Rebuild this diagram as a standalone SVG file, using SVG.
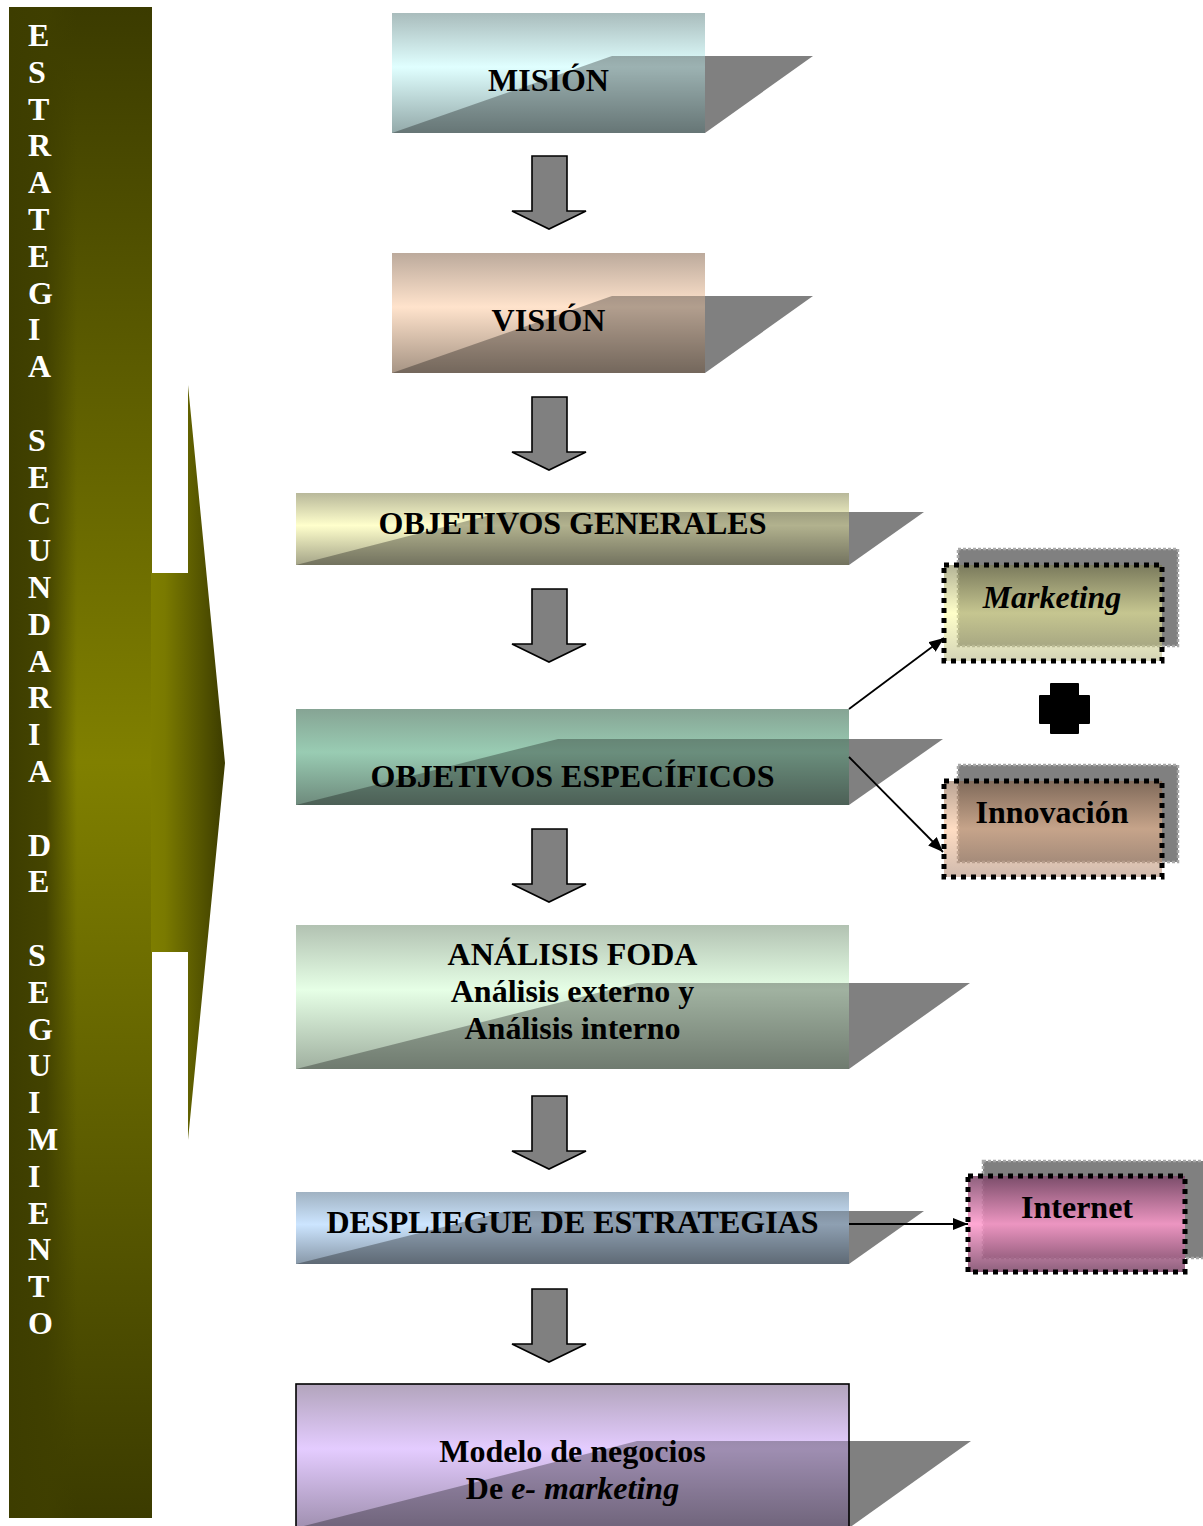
<svg xmlns="http://www.w3.org/2000/svg" width="1203" height="1526" viewBox="0 0 1203 1526">
<style>
text{font-family:"Liberation Serif","Times New Roman",serif;font-weight:bold;font-size:32px;fill:#000}
.c{text-anchor:middle}
.bar{fill:#fff;font-size:32px}
.shadow{fill:#808080}
.ov{fill:#000;fill-opacity:0.3}
.down{fill:#808080;stroke:#000;stroke-width:1.6;stroke-linejoin:miter}
.conn{stroke:#000;stroke-width:1.8;fill:none;marker-end:url(#ah)}
.bshadow{fill:#808080;stroke:#a8a8a8;stroke-width:2.5;stroke-dasharray:3 2}
.dots{fill:none;stroke:#000;stroke-width:5;stroke-dasharray:5 5}
</style>
<defs>
<marker id="ah" viewBox="0 0 10 10" refX="10" refY="5" markerWidth="15" markerHeight="12" markerUnits="userSpaceOnUse" orient="auto" preserveAspectRatio="none">
<path d="M0,0 L10,5 L0,10 z" fill="#000"/>
</marker>
<linearGradient id="barV" x1="0" y1="0" x2="0" y2="1">
<stop offset="0" stop-color="#3b3b00"/><stop offset="0.5" stop-color="#808000"/><stop offset="1" stop-color="#3b3b00"/>
</linearGradient>
<linearGradient id="barL" x1="0" y1="0" x2="1" y2="0">
<stop offset="0" stop-color="#3d3d00" stop-opacity="1"/><stop offset="0.55" stop-color="#3f3f00" stop-opacity="0.9"/><stop offset="1" stop-color="#3f3f00" stop-opacity="0"/>
</linearGradient>
<linearGradient id="barA" gradientUnits="userSpaceOnUse" x1="150" y1="0" x2="224" y2="0">
<stop offset="0" stop-color="#7e7e00"/><stop offset="0.2" stop-color="#7a7a00"/><stop offset="1" stop-color="#3d3d00"/>
</linearGradient>
<linearGradient id="gMis" x1="0" y1="0" x2="0" y2="1"><stop offset="0" stop-color="#a9bcbc"/><stop offset="0.45" stop-color="#e0ffff"/><stop offset="1" stop-color="#93a9a9"/></linearGradient>
<linearGradient id="gVis" x1="0" y1="0" x2="0" y2="1"><stop offset="0" stop-color="#bcaa9c"/><stop offset="0.45" stop-color="#ffe3cc"/><stop offset="1" stop-color="#a69484"/></linearGradient>
<linearGradient id="gGen" x1="0" y1="0" x2="0" y2="1"><stop offset="0" stop-color="#b8b89a"/><stop offset="0.45" stop-color="#ffffcc"/><stop offset="1" stop-color="#a4a488"/></linearGradient>
<linearGradient id="gEsp" x1="0" y1="0" x2="0" y2="1"><stop offset="0" stop-color="#86a494"/><stop offset="0.45" stop-color="#99ccb3"/><stop offset="1" stop-color="#6e8a7c"/></linearGradient>
<linearGradient id="gFoda" x1="0" y1="0" x2="0" y2="1"><stop offset="0" stop-color="#b2c2b2"/><stop offset="0.45" stop-color="#e6ffe6"/><stop offset="1" stop-color="#a0b0a0"/></linearGradient>
<linearGradient id="gDes" x1="0" y1="0" x2="0" y2="1"><stop offset="0" stop-color="#a0b2c2"/><stop offset="0.45" stop-color="#cce5ff"/><stop offset="1" stop-color="#8898a8"/></linearGradient>
<linearGradient id="gMod" x1="0" y1="0" x2="0" y2="1"><stop offset="0" stop-color="#b2a4bc"/><stop offset="0.45" stop-color="#e4ccff"/><stop offset="1" stop-color="#a090b0"/></linearGradient>
<linearGradient id="gMkt" x1="0" y1="0" x2="0" y2="1"><stop offset="0" stop-color="#75753f"/><stop offset="0.5" stop-color="#ffff9d"/><stop offset="1" stop-color="#b0b07a"/></linearGradient>
<linearGradient id="gInn" x1="0" y1="0" x2="0" y2="1"><stop offset="0" stop-color="#80583b"/><stop offset="0.5" stop-color="#ffc192"/><stop offset="1" stop-color="#a88068"/></linearGradient>
<linearGradient id="gInt" x1="0" y1="0" x2="0" y2="1"><stop offset="0" stop-color="#7a4466"/><stop offset="0.5" stop-color="#ff99cc"/><stop offset="1" stop-color="#7a4466"/></linearGradient>
</defs>

<g id="bar">
<rect x="9" y="7" width="143" height="1511" fill="url(#barV)"/>
<rect x="9" y="7" width="68" height="1511" fill="url(#barL)"/>
<polygon points="151,573 188,573 188,385 225,763 188,1140 188,952 151,952" fill="url(#barA)"/>
<text class="bar">
<tspan x="28" y="46">E</tspan><tspan x="28" y="82.8">S</tspan><tspan x="28" y="119.6">T</tspan><tspan x="28" y="156.4">R</tspan><tspan x="28" y="193.2">A</tspan><tspan x="28" y="230">T</tspan><tspan x="28" y="266.8">E</tspan><tspan x="28" y="303.6">G</tspan><tspan x="28" y="340.4">I</tspan><tspan x="28" y="377.2">A</tspan>
<tspan x="28" y="450.8">S</tspan><tspan x="28" y="487.6">E</tspan><tspan x="28" y="524.4">C</tspan><tspan x="28" y="561.2">U</tspan><tspan x="28" y="598">N</tspan><tspan x="28" y="634.8">D</tspan><tspan x="28" y="671.6">A</tspan><tspan x="28" y="708.4">R</tspan><tspan x="28" y="745.2">I</tspan><tspan x="28" y="782">A</tspan>
<tspan x="28" y="855.6">D</tspan><tspan x="28" y="892.4">E</tspan>
<tspan x="28" y="966">S</tspan><tspan x="28" y="1002.8">E</tspan><tspan x="28" y="1039.6">G</tspan><tspan x="28" y="1076.4">U</tspan><tspan x="28" y="1113.2">I</tspan><tspan x="28" y="1150">M</tspan><tspan x="28" y="1186.8">I</tspan><tspan x="28" y="1223.6">E</tspan><tspan x="28" y="1260.4">N</tspan><tspan x="28" y="1297.2">T</tspan><tspan x="28" y="1334">O</tspan>
</text>
</g>

<g id="mision">
<polygon class="shadow" points="392,133 612,56 813,56 705,133"/>
<rect x="392" y="13" width="313" height="120" fill="url(#gMis)"/>
<polygon class="ov" points="392,133 612,56 705,56 705,133"/>
<text class="c" x="548.5" y="91">MISIÓN</text>
</g>

<g id="vision">
<polygon class="shadow" points="392,373 612,296 813,296 705,373"/>
<rect x="392" y="253" width="313" height="120" fill="url(#gVis)"/>
<polygon class="ov" points="392,373 612,296 705,296 705,373"/>
<text class="c" x="548.5" y="331">VISIÓN</text>
</g>

<g id="obj-generales">
<polygon class="shadow" points="296,565 502,512 924,512 849,565"/>
<rect x="296" y="493" width="553" height="72" fill="url(#gGen)"/>
<polygon class="ov" points="296,565 502,512 849,512 849,565"/>
<text class="c" x="572.5" y="534">OBJETIVOS GENERALES</text>
</g>

<g id="obj-especificos">
<polygon class="shadow" points="296,805 558,739 943,739 849,805"/>
<rect x="296" y="709" width="553" height="96" fill="url(#gEsp)"/>
<polygon class="ov" points="296,805 558,739 849,739 849,805"/>
<text class="c" x="572.5" y="787">OBJETIVOS ESPECÍFICOS</text>
</g>

<g id="foda">
<polygon class="shadow" points="296,1069 637,983 970,983 849,1069"/>
<rect x="296" y="925" width="553" height="144" fill="url(#gFoda)"/>
<polygon class="ov" points="296,1069 637,983 849,983 849,1069"/>
<text class="c" x="572.5" y="965">ANÁLISIS FODA</text>
<text class="c" x="572.5" y="1002">Análisis externo y</text>
<text class="c" x="572.5" y="1039">Análisis interno</text>
</g>

<g id="despliegue">
<polygon class="shadow" points="296,1264 507,1211 924,1211 849,1264"/>
<rect x="296" y="1192" width="553" height="72" fill="url(#gDes)"/>
<polygon class="ov" points="296,1264 507,1211 849,1211 849,1264"/>
<text class="c" x="572.5" y="1233">DESPLIEGUE DE ESTRATEGIAS</text>
</g>

<g id="modelo">
<polygon class="shadow" points="296,1528 637,1441 971,1441 849,1528"/>
<rect x="296" y="1384" width="553" height="144" fill="url(#gMod)" stroke="#000" stroke-width="1.6"/>
<polygon class="ov" points="296,1528 637,1441 849,1441 849,1528"/>
<text class="c" x="572.5" y="1462">Modelo de negocios</text>
<text class="c" x="572.5" y="1499">De <tspan font-style="italic">e- marketing</tspan></text>
</g>

<g id="marketing">
<rect class="bshadow" x="958" y="549" width="220" height="97"/>
<rect x="944" y="565" width="218" height="96" fill="url(#gMkt)" fill-opacity="0.55"/>
<rect class="dots" x="944" y="565" width="218" height="96"/>
<text class="c" x="1052" y="608" font-style="italic">Marketing</text>
</g>

<g id="plus">
<polygon points="1051,684 1078,684 1078,696 1089,696 1089,723 1078,723 1078,733 1051,733 1051,723 1040,723 1040,696 1051,696" fill="#000" stroke="#000" stroke-width="2" stroke-linejoin="round"/>
</g>

<g id="innovacion">
<rect class="bshadow" x="958" y="765" width="220" height="97"/>
<rect x="944" y="781" width="218" height="96" fill="url(#gInn)" fill-opacity="0.55"/>
<rect class="dots" x="944" y="781" width="218" height="96"/>
<text class="c" x="1052" y="823">Innovación</text>
</g>

<g id="internet">
<rect class="bshadow" x="983" y="1161" width="222" height="97"/>
<rect x="968" y="1176" width="217" height="96" fill="url(#gInt)" fill-opacity="0.85"/>
<rect class="dots" x="968" y="1176" width="217" height="96"/>
<text class="c" x="1077" y="1218">Internet</text>
</g>

<g id="connectors">
<polygon class="down" points="532,156 567,156 567,211 586,211 549,229 512,211 532,211"/>
<polygon class="down" points="532,397 567,397 567,452 586,452 549,470 512,452 532,452"/>
<polygon class="down" points="532,589 567,589 567,644 586,644 549,662 512,644 532,644"/>
<polygon class="down" points="532,829 567,829 567,884 586,884 549,902 512,884 532,884"/>
<polygon class="down" points="532,1096 567,1096 567,1151 586,1151 549,1169 512,1151 532,1151"/>
<polygon class="down" points="532,1289 567,1289 567,1344 586,1344 549,1362 512,1344 532,1344"/>
<line class="conn" x1="849" y1="709" x2="944" y2="638"/>
<line class="conn" x1="849" y1="757" x2="943" y2="852"/>
<line class="conn" x1="849" y1="1224" x2="968" y2="1224"/>
</g>
</svg>
